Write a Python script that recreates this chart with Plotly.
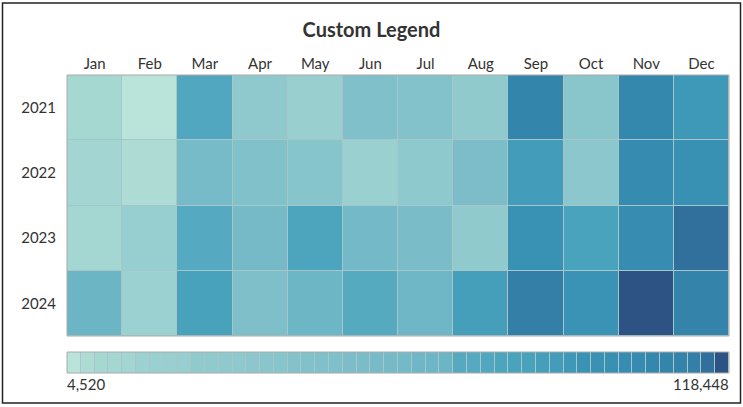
import numpy as np
import plotly.graph_objects as go

months = ['Jan', 'Feb', 'Mar', 'Apr', 'May', 'Jun', 'Jul', 'Aug', 'Sep', 'Oct', 'Nov', 'Dec']
years = ['2021', '2022', '2023', '2024']

vals_2021 = [21610, 4520, 72880, 38700, 33000, 47810, 45530, 37950, 95660, 42120, 94870, 84270]
vals_2022 = [23890, 15910, 52370, 47200, 43260, 31860, 39300, 50090, 80850, 40980, 93380, 89970]
vals_2023 = [22750, 34140, 70600, 53510, 75160, 54650, 51230, 38200, 88830, 76300, 92250, 104780]
vals_2024 = [59210, 30720, 77430, 48400, 58070, 69900, 56930, 79710, 97940, 88100, 118448, 96300]

z = np.array([vals_2021, vals_2022, vals_2023, vals_2024])
zmin = z.min()
zmax = z.max()
legend_vals = np.sort(z.flatten())

# teal -> navy scale
cscale = [
    [0.0, '#bae3d9'], [0.1, '#aedcd5'], [0.16, '#a4d7d2'], [0.25, '#99cfcf'],
    [0.33, '#89c6cc'], [0.42, '#78bbc8'], [0.48, '#6bb5c5'], [0.58, '#55a9c0'],
    [0.64, '#48a2bc'], [0.7, '#3e98b7'], [0.78, '#358bb0'], [0.82, '#337fa8'],
    [0.88, '#31709c'], [1.0, '#2c5384'],
]

W, H = 743, 407
xdom = [67 / W, 729 / W]
ydom = [1 - 336 / H, 1 - 75 / H]
y2dom = [1 - 373 / H, 1 - 352 / H]
txt = dict(family='Lato', size=15, color='#333333')

fig = go.Figure()
fig.add_trace(go.Heatmap(z=z, x=months, y=years, colorscale=cscale, zmin=zmin, zmax=zmax,
                         xgap=1, ygap=1, showscale=False, xaxis='x', yaxis='y'))
fig.add_trace(go.Heatmap(z=[legend_vals], x=list(range(len(legend_vals))), y=[0],
                         colorscale=cscale, zmin=zmin, zmax=zmax,
                         xgap=1, ygap=0, showscale=False, xaxis='x2', yaxis='y2'))

fig.update_layout(
    width=W, height=H,
    margin=dict(l=0, r=0, t=0, b=0),
    paper_bgcolor='white', plot_bgcolor='#a6c6c9',
    title=dict(text='Custom Legend', x=0.5, xanchor='center', y=1 - 30 / H, yanchor='middle',
               font=dict(family='Lato', size=20, color='#333333', weight='bold')),
    xaxis=dict(domain=xdom, anchor='y', side='top', showgrid=False, zeroline=False,
               ticks='', tickfont=txt, ticklabelstandoff=2),
    yaxis=dict(domain=ydom, anchor='x', autorange='reversed', showgrid=False, zeroline=False,
               ticks='', tickfont=txt, ticklabelstandoff=10),
    xaxis2=dict(domain=xdom, anchor='y2', showgrid=False, zeroline=False, showticklabels=False),
    yaxis2=dict(domain=y2dom, anchor='x2', showgrid=False, zeroline=False, showticklabels=False),
)

fig.add_annotation(text=f'{zmin:,}', x=xdom[0], y=1 - 384 / H, xref='paper', yref='paper',
                   xanchor='left', yanchor='middle', showarrow=False, font=txt, xshift=-2)
fig.add_annotation(text=f'{zmax:,}', x=xdom[1], y=1 - 384 / H, xref='paper', yref='paper',
                   xanchor='right', yanchor='middle', showarrow=False, font=txt, xshift=2)

fig.add_shape(type='rect', xref='x domain', yref='y domain', x0=0, x1=1, y0=0, y1=1,
              line=dict(color='#aaaaaa', width=1))
fig.add_shape(type='rect', xref='x2 domain', yref='y2 domain', x0=0, x1=1, y0=0, y1=1,
              line=dict(color='#aaaaaa', width=1))
fig.add_shape(type='rect', xref='paper', yref='paper', x0=2.5 / W, x1=1 - 2.5 / W,
              y0=4 / H, y1=1 - 3 / H, line=dict(color='#222222', width=1.5))

fig.write_html("out.html", config={'displayModeBar': False},
               post_script="document.body.style.margin='0';document.body.style.overflow='hidden';")
